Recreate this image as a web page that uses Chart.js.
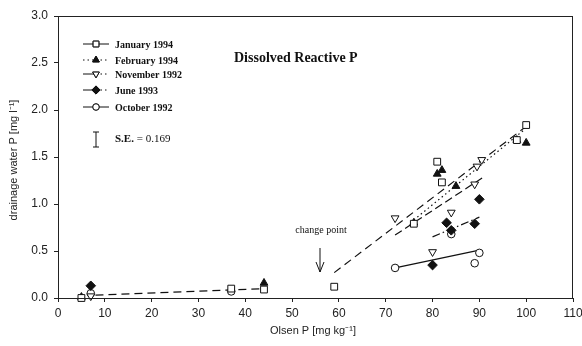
<!DOCTYPE html>
<html>
<head>
<meta charset="utf-8">
<script src="https://cdn.jsdelivr.net/npm/chart.js@4.4.1/dist/chart.umd.min.js"></script>
<style>
  html, body { margin: 0; padding: 0; background: #fff; }
  #wrap { width: 582px; height: 346px; position: relative; }
</style>
</head>
<body>
<div id="wrap"><canvas id="graph"></canvas></div>
<script>
// 측정값 (Olsen P, drainage water P)
var janX = [5, 37, 44, 59, 76, 81, 82, 98, 100];
var janY = [0.00, 0.10, 0.09, 0.12, 0.79, 1.45, 1.23, 1.68, 1.84];
var febX = [5, 44, 76, 81, 82, 85, 98, 100];
var febY = [0.01, 0.16, 0.80, 1.32, 1.36, 1.19, 1.68, 1.65];
var novX = [7, 72, 80, 84, 89, 89.5, 90.5];
var novY = [0.02, 0.85, 0.49, 0.91, 1.21, 1.40, 1.47];
var junX = [7, 80, 83, 84, 89, 90];
var junY = [0.13, 0.35, 0.80, 0.72, 0.79, 1.05];
var octX = [7, 37, 72, 84, 89, 90];
var octY = [0.05, 0.07, 0.32, 0.68, 0.37, 0.48];

// 회귀선 끝점
var lowFitX = [8, 44];   var lowFitY = [0.03, 0.10];
var janFitX = [59, 99.6]; var janFitY = [0.27, 1.81];
var febFitX = [76, 99.6]; var febFitY = [0.83, 1.79];
var novFitX = [72, 91];   var novFitY = [0.67, 1.29];
var junFitX = [80, 90];   var junFitY = [0.65, 0.86];
var octFitX = [72, 90];   var octFitY = [0.32, 0.51];

var xTicks = [0, 10, 20, 30, 40, 50, 60, 70, 80, 90, 100, 110];
var yTicks = [0.0, 0.5, 1.0, 1.5, 2.0, 2.5, 3.0];

var seriesNames = ['January 1994', 'February 1994', 'November 1992', 'June 1993', 'October 1992'];

function pts(xs, ys) {
	return xs.map(function(x, i) { return { x: x, y: ys[i] }; });
}

var ink = '#111';

// 마커 스타일
var markers = [
	{ pointStyle: 'rect', radius: 4.8, rotation: 0, fill: '#fff' },
	{ pointStyle: 'triangle', radius: 4.5, rotation: 0, fill: ink },
	{ pointStyle: 'triangle', radius: 4.5, rotation: 180, fill: '#fff' },
	{ pointStyle: 'rectRot', radius: 4.8, rotation: 0, fill: ink },
	{ pointStyle: 'circle', radius: 3.8, rotation: 0, fill: '#fff' }
];
var dashes = [[8, 5], [1.5, 3], [8, 3, 1.5, 3], [8, 3, 1.5, 3], []];
// 범례 선 모양 (왼쪽 / 오른쪽)
var legendLeft = [[], [1.5, 3], [], [], []];
var legendRight = [[], [1.5, 3], [1.5, 3], [1.5, 3], []];

function pointSet(label, xs, ys, m) {
	return {
		label: label,
		data: pts(xs, ys),
		showLine: false,
		pointStyle: m.pointStyle,
		pointRadius: m.radius,
		pointRotation: m.rotation,
		pointBackgroundColor: m.fill,
		pointBorderColor: ink,
		pointBorderWidth: 1
	};
}

function lineSet(xs, ys, dash) {
	return {
		label: '',
		data: pts(xs, ys),
		showLine: true,
		pointRadius: 0,
		borderColor: ink,
		borderWidth: 1.2,
		borderDash: dash,
		fill: false
	};
}

// 범례, 제목, 주석을 그리는 플러그인
var decor = {
	id: 'decor',
	afterDraw: function(chart) {
		var c = chart.ctx;
		var a = chart.chartArea;
		c.save();
		c.strokeStyle = '#222';
		c.lineWidth = 1;
		c.strokeRect(a.left + 0.5, a.top + 0.5, a.right - a.left - 1, a.bottom - a.top);

		// 범례
		var rows = [44, 60, 74, 90, 107];
		rows.forEach(function(y, i) {
			c.strokeStyle = ink;
			c.lineWidth = 1;
			c.setLineDash(legendLeft[i]);
			c.beginPath();
			c.moveTo(83, y);
			c.lineTo(96, y);
			c.stroke();
			c.setLineDash(legendRight[i]);
			c.beginPath();
			c.moveTo(96, y);
			c.lineTo(109, y);
			c.stroke();
			c.setLineDash([]);
			var m = markers[i];
			c.fillStyle = m.fill;
			Chart.helpers.drawPoint(c, { pointStyle: m.pointStyle, radius: m.radius * 0.85, rotation: m.rotation, borderWidth: 1 }, 96, y);
			c.fill();
			c.stroke();
			c.fillStyle = ink;
			c.font = 'bold 10px "Liberation Serif", serif';
			c.textBaseline = 'middle';
			c.textAlign = 'left';
			c.fillText(seriesNames[i], 115, y + 1);
		});

		// S.E. 오차 막대
		c.beginPath();
		c.moveTo(96, 132); c.lineTo(96, 147);
		c.moveTo(93, 132); c.lineTo(99, 132);
		c.moveTo(93, 147); c.lineTo(99, 147);
		c.stroke();
		c.font = 'bold 11px "Liberation Serif", serif';
		c.fillText('S.E.', 115, 139);
		var w = c.measureText('S.E. ').width;
		c.font = '11px "Liberation Serif", serif';
		c.fillText('= 0.169', 115 + w, 139);

		// 제목
		c.font = 'bold 14px "Liberation Serif", serif';
		c.fillText('Dissolved Reactive P', 234, 58);

		// change point
		c.font = '10px "Liberation Serif", serif';
		c.textAlign = 'center';
		c.fillText('change point', 321, 230);
		c.beginPath();
		c.moveTo(320, 248); c.lineTo(320, 272);
		c.moveTo(316, 262); c.lineTo(320, 272); c.lineTo(324, 262);
		c.stroke();

		// 축 제목
		c.fillStyle = '#222';
		c.font = '11px "Liberation Sans", Arial, sans-serif';
		c.textAlign = 'center';
		c.fillText('Olsen P [mg kg\u207B\u00B9]', 313, 331);
		c.translate(14, 160);
		c.rotate(-Math.PI / 2);
		c.fillText('drainage water P [mg l\u207B\u00B9]', 0, 0);
		c.restore();
	}
};

var datasets = [
	pointSet(seriesNames[0], janX, janY, markers[0]),
	pointSet(seriesNames[1], febX, febY, markers[1]),
	pointSet(seriesNames[2], novX, novY, markers[2]),
	pointSet(seriesNames[3], junX, junY, markers[3]),
	pointSet(seriesNames[4], octX, octY, markers[4]),
	lineSet(lowFitX, lowFitY, [8, 5]),
	lineSet(janFitX, janFitY, dashes[0]),
	lineSet(febFitX, febFitY, dashes[1]),
	lineSet(novFitX, novFitY, [8, 4]),
	lineSet(junFitX, junFitY, dashes[3]),
	lineSet(octFitX, octFitY, dashes[4])
];

var tickFont = { size: 12, family: '"Liberation Sans", Arial, sans-serif' };

var myChart = new Chart(document.getElementById('graph'), {
	type: 'scatter',
	data: { datasets: datasets },
	options: {
		animation: false,
		responsive: true,
		maintainAspectRatio: false,
		clip: false,
		layout: { padding: { top: 16, right: 9, left: 0, bottom: 0 } },
		plugins: {
			legend: { display: false },
			tooltip: { enabled: false }
		},
		scales: {
			x: {
				type: 'linear',
				min: 0,
				max: 110,
				afterBuildTicks: function(axis) {
					axis.ticks = xTicks.map(function(v) { return { value: v }; });
				},
				afterFit: function(scale) {
					scale.height = 48;
					scale.paddingRight = 0;
					scale.paddingLeft = 0;
				},
				grid: { drawOnChartArea: false, drawTicks: true, tickLength: 4, color: '#222' },
				border: { display: true, color: '#222' },
				ticks: { color: '#222', font: tickFont, padding: 4, maxRotation: 0 }
			},
			y: {
				type: 'linear',
				min: 0,
				max: 3,
				afterBuildTicks: function(axis) {
					axis.ticks = yTicks.map(function(v) { return { value: v }; });
				},
				afterFit: function(scale) { scale.width = 58; },
				grid: { drawOnChartArea: false, drawTicks: true, tickLength: 4, color: '#222' },
				border: { display: true, color: '#222' },
				ticks: {
					color: '#222', font: tickFont, padding: 6,
					callback: function(v) { return Number(v).toFixed(1); }
				}
			}
		}
	},
	plugins: [decor]
});
</script>
</body>
</html>
